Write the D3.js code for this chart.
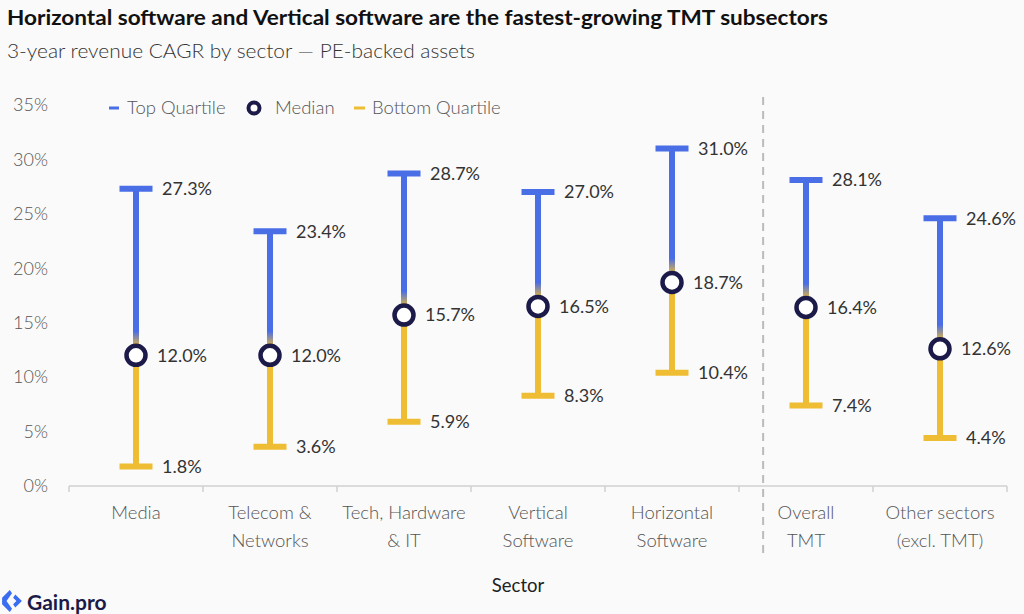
<!DOCTYPE html>
<html><head><meta charset="utf-8">
<script src="https://cdn.jsdelivr.net/npm/d3@7"></script>
<style>
body{margin:0;background:#fafafa;}
svg{display:block;font-family:Lato,"Noto Sans",sans-serif;}
</style></head>
<body><svg id="chart" width="1024" height="614"></svg>
<script>
const categories = ["Media","Telecom & Networks","Tech, Hardware & IT","Vertical Software","Horizontal Software","Overall TMT","Other sectors (excl. TMT)"];
const categoryLines = [["Media"],["Telecom &","Networks"],["Tech, Hardware","& IT"],["Vertical","Software"],["Horizontal","Software"],["Overall","TMT"],["Other sectors","(excl. TMT)"]];
const topQuartile = [27.3,23.4,28.7,27.0,31.0,28.1,24.6];
const median = [12.0,12.0,15.7,16.5,18.7,16.4,12.6];
const bottomQuartile = [1.8,3.6,5.9,8.3,10.4,7.4,4.4];
const yTicks = [0,5,10,15,20,25,30,35];

const BLUE="#4a6ee6", YELLOW="#efbd33", NAVY="#1c1a48";
const svg=d3.select("#chart");
svg.append("rect").attr("width",1024).attr("height",614).attr("fill","#fafafa");

const x=d3.scaleBand().domain(categories).range([69,1007]);
const y=d3.scaleLinear().domain([0,35]).range([486,105]);

// title
svg.append("text").attr("x",7).attr("y",25).attr("font-size",21).attr("font-weight",700).attr("fill","#111")
 .attr("textLength",821).attr("lengthAdjust","spacingAndGlyphs")
 .text("Horizontal software and Vertical software are the fastest-growing TMT subsectors");
svg.append("text").attr("x",7).attr("y",58).attr("font-size",20.5).attr("font-weight",300).attr("fill","#333")
 .attr("textLength",468).attr("lengthAdjust","spacingAndGlyphs")
 .text("3-year revenue CAGR by sector — PE-backed assets");

// y axis labels
const yAxis=d3.axisLeft(y).tickValues(yTicks).tickFormat(d=>d+"%").tickSize(0).tickPadding(0);
const ya=svg.append("g").attr("transform","translate(48,0)").call(yAxis);
ya.select(".domain").remove();
ya.selectAll("text").attr("font-size",18).attr("fill","#555").attr("font-family","Lato,sans-serif").attr("font-weight",300);

// x axis
const xAxis=d3.axisBottom(x).tickSize(0).tickFormat("");
const xa=svg.append("g").attr("transform","translate(0,486)").call(xAxis);
xa.select(".domain").attr("stroke","#d0d0d0").attr("stroke-width",1.5).attr("d","M69,0H1007");
const bounds=[...categories.map(c=>x(c)),x.range()[1]];
xa.selectAll(".bt").data(bounds).enter().append("line").attr("class","bt")
 .attr("x1",d=>d).attr("x2",d=>d).attr("y1",0).attr("y2",6).attr("stroke","#d0d0d0").attr("stroke-width",1.5);

categories.forEach((c,i)=>{
  const t=svg.append("text").attr("text-anchor","middle").attr("font-size",18.5).attr("fill","#555").attr("font-weight",300);
  categoryLines[i].forEach((ln,j)=>t.append("tspan").attr("x",x(c)+x.bandwidth()/2).attr("y",519+j*28).text(ln));
});
svg.append("text").attr("x",518).attr("y",592).attr("text-anchor","middle").attr("font-size",18.5).attr("fill","#222").text("Sector");

// dashed separator
const sepX=x("Overall TMT")+x.bandwidth()*0.18;
svg.append("line").attr("x1",sepX).attr("x2",sepX).attr("y1",97).attr("y2",556)
 .attr("stroke","#bbb").attr("stroke-width",2).attr("stroke-dasharray","8,6");

// legend
const lg=svg.append("g").attr("font-size",18.5).attr("fill","#555");
lg.append("line").attr("x1",109).attr("x2",119).attr("y1",108).attr("y2",108).attr("stroke",BLUE).attr("stroke-width",3);
lg.append("text").attr("x",127).attr("y",114).attr("fill","#555").attr("font-weight",300).text("Top Quartile");
lg.append("circle").attr("cx",254).attr("cy",108).attr("r",5.5).attr("fill","#fff").attr("stroke",NAVY).attr("stroke-width",4);
lg.append("text").attr("x",275).attr("y",114).attr("fill","#555").attr("font-weight",300).text("Median");
lg.append("line").attr("x1",354).attr("x2",365).attr("y1",108).attr("y2",108).attr("stroke",YELLOW).attr("stroke-width",3);
lg.append("text").attr("x",372).attr("y",114).attr("fill","#555").attr("font-weight",300).text("Bottom Quartile");

// marks
const defs=svg.append("defs");
const g=svg.append("g");
categories.forEach((c,i)=>{
  const cx=x(c)+x.bandwidth()/2;
  const yt=y(topQuartile[i]), ym=y(median[i]), yb=y(bottomQuartile[i]);
  const gid="grad"+i;
  const gr=defs.append("linearGradient").attr("id",gid).attr("gradientUnits","userSpaceOnUse")
    .attr("x1",0).attr("x2",0).attr("y1",ym-24).attr("y2",ym-8);
  gr.append("stop").attr("offset",0).attr("stop-color",BLUE);
  gr.append("stop").attr("offset",1).attr("stop-color",YELLOW);
  g.append("line").attr("x1",cx).attr("x2",cx).attr("y1",yt).attr("y2",ym).attr("stroke",`url(#${gid})`).attr("stroke-width",6);
  g.append("line").attr("x1",cx).attr("x2",cx).attr("y1",ym).attr("y2",yb).attr("stroke",YELLOW).attr("stroke-width",6);
  g.append("line").attr("x1",cx-16.5).attr("x2",cx+16.5).attr("y1",yt).attr("y2",yt).attr("stroke",BLUE).attr("stroke-width",6);
  g.append("line").attr("x1",cx-16.5).attr("x2",cx+16.5).attr("y1",yb).attr("y2",yb).attr("stroke",YELLOW).attr("stroke-width",6);
  g.append("circle").attr("cx",cx).attr("cy",ym).attr("r",9.5).attr("fill","#fff").attr("stroke",NAVY).attr("stroke-width",4.5);
  const lab=(yy,v,dx)=>g.append("text").attr("x",cx+dx).attr("y",yy).attr("dy","0.35em").attr("font-size",18).attr("fill","#333").text(v.toFixed(1)+"%");
  lab(yt,topQuartile[i],26); lab(ym,median[i],21); lab(yb,bottomQuartile[i],26);
});

// logo
const logo=svg.append("g").attr("transform","translate(1,590) scale(1.1)");
logo.append("path").attr("d","M8,0 L1,7 L1,13 L8,20 L10,17 L5,10 L10,3 Z").attr("fill","#3b6df0");
logo.append("path").attr("d","M13,4 L19,10 L13,16 L11,13 L14,10 L11,7 Z").attr("fill","#3b6df0");
svg.append("text").attr("x",27).attr("y",610).attr("font-size",21).attr("font-weight",700).attr("fill",NAVY).text("Gain.pro");
</script></body></html>
